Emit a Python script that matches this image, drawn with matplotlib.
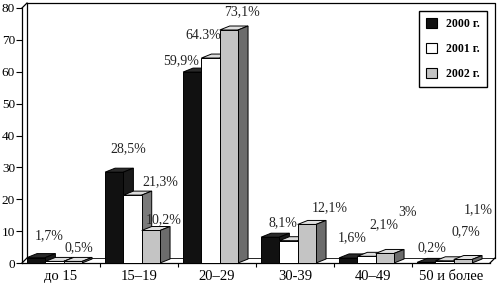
"""
Age distribution chart (2000-2002), drawn as pseudo-3D grouped bars.
"""

import matplotlib
matplotlib.use("Agg")
import matplotlib.pyplot as plt
from matplotlib.patches import Patch, Polygon

# Categories and values (percent)
categories = ["до 15", "15–19", "20–29", "30-39", "40–49", "50 и более"]
years = ["2000 г.", "2001 г.", "2002 г."]
vals_2000 = [1.7, 28.5, 59.9, 8.1, 1.6, 0.2]
vals_2001 = [0.5, 21.3, 64.3, 7.0, 2.1, 0.7]
vals_2002 = [0.5, 10.2, 73.1, 12.1, 3.0, 1.1]

# Value labels as printed on the chart (None = no label)
labels_2000 = ["1,7%", "28,5%", "59,9%", "8,1%", "1,6%", "0,2%"]
labels_2001 = [None, "21,3%", "64.3%", None, "2,1%", "0,7%"]
labels_2002 = ["0,5%", "10,2%", "73,1%", "12,1%", "3%", "1,1%"]

# Label placement (x in category units, y in data units)
label_x_2000 = [0.35, 1.36, 2.04, 3.35, 4.23, 5.26]
label_y_2000 = [8.5, 36.0, 63.6, 12.5, 7.8, 4.7]
label_x_2001 = [None, 1.77, 2.32, None, 4.64, 5.69]
label_y_2001 = [None, 25.4, 71.5, None, 11.9, 9.7]
label_x_2002 = [0.73, 1.81, 2.82, 3.95, 4.94, 5.85]
label_y_2002 = [4.7, 13.5, 78.7, 17.2, 16.0, 16.6]

series = [vals_2000, vals_2001, vals_2002]
labels = [labels_2000, labels_2001, labels_2002]
label_xs = [label_x_2000, label_x_2001, label_x_2002]
label_ys = [label_y_2000, label_y_2001, label_y_2002]

# colours: front, top, side
colors = [("#111111", "#2a2a2a", "#1a1a1a"),
          ("#ffffff", "#dcdcdc", "#7a7a7a"),
          ("#c4c4c4", "#e0e0e0", "#6c6c6c")]

plt.rcParams["font.family"] = ["Liberation Serif", "DejaVu Serif"]

fig = plt.figure(figsize=(5.01, 2.85), dpi=100)
ax = fig.add_axes([22 / 501, 22 / 285, 468 / 501, 255 / 285])
ax.set_xlim(0, 6)
ax.set_ylim(0, 80)
for sp in ax.spines.values():
    sp.set_visible(False)

# bar geometry
offset = 0.065
width = 0.235
bdx = 0.128
bdy = 1.25
# wall depth
wdx = 5 / 78
wdy = 5 / 3.19

line_kw = dict(color="black", lw=0.9, clip_on=False, zorder=1)
# back wall
ax.plot([wdx, wdx, 6 + wdx, 6 + wdx], [wdy, 80 + wdy, 80 + wdy, wdy], **line_kw)
ax.plot([wdx, 6 + wdx], [wdy, wdy], color="black", lw=0.6, clip_on=False, zorder=1)
# front axes
ax.plot([0, 0], [0, 80], **line_kw)
ax.plot([0, 6], [0, 0], **line_kw)
ax.plot([0, wdx], [80, 80 + wdy], **line_kw)
ax.plot([0, wdx], [0, wdy], **line_kw)
ax.plot([6, 6 + wdx], [0, wdy], **line_kw)

for s, vals in enumerate(series):
    front, top, side = colors[s]
    xs = [i + offset + s * width for i in range(len(categories))]
    ax.bar(xs, vals, width=width, align="edge", color=front,
           edgecolor="black", linewidth=0.7, zorder=3 + 2 * s + 1)
    for x0, v in zip(xs, vals):
        top_poly = Polygon([(x0, v), (x0 + width, v),
                            (x0 + width + bdx, v + bdy), (x0 + bdx, v + bdy)],
                           closed=True, facecolor=top, edgecolor="black",
                           linewidth=0.7, zorder=3 + 2 * s)
        side_poly = Polygon([(x0 + width, 0), (x0 + width, v),
                             (x0 + width + bdx, v + bdy), (x0 + width + bdx, bdy)],
                            closed=True, facecolor=side, edgecolor="black",
                            linewidth=0.7, zorder=3 + 2 * s)
        ax.add_patch(top_poly)
        ax.add_patch(side_poly)
    for lab, lx, ly in zip(labels[s], label_xs[s], label_ys[s]):
        if lab is None:
            continue
        ax.text(lx, ly, lab, ha="center", va="center", fontsize=10,
                color="#222222", zorder=20)

# ticks
ax.set_yticks(range(0, 81, 10))
ax.set_xticks(range(1, 6))
ax.set_xticklabels([])
ax.set_xticks([i + 0.5 for i in range(len(categories))], minor=True)
ax.set_xticklabels(categories, minor=True, fontsize=10.5)
ax.tick_params(axis="y", direction="out", length=4, width=0.8, labelsize=9.5, pad=1)
ax.tick_params(axis="x", which="major", direction="out", length=3, width=0.8)
ax.tick_params(axis="x", which="minor", length=0, pad=5)

# legend
handles = [Patch(facecolor=colors[s][0], edgecolor="black", linewidth=0.8)
           for s in range(3)]
leg = ax.legend(handles, years, loc="upper right",
                bbox_to_anchor=(487 / 501, 274 / 285),
                bbox_transform=fig.transFigure, fancybox=False,
                framealpha=1, edgecolor="black", handlelength=0.9,
                handleheight=0.9, labelspacing=1.1, borderpad=0.6,
                borderaxespad=0, handletextpad=0.8,
                prop={"weight": "bold", "size": 8.5})
leg.get_frame().set_linewidth(1.0)
leg.set_zorder(30)

fig.savefig("out.png", dpi=100)
